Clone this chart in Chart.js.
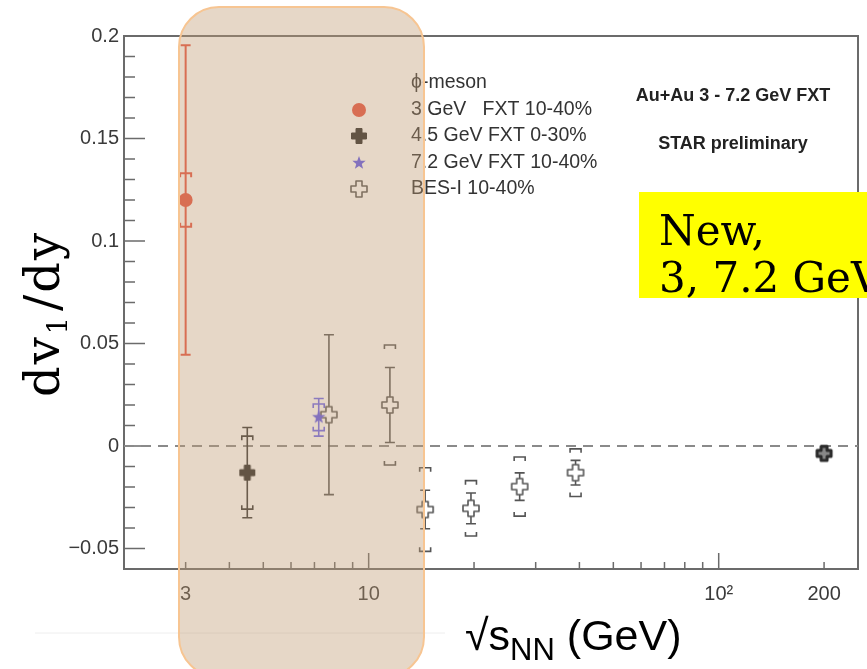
<!DOCTYPE html>
<html>
<head>
<meta charset="utf-8">
<script src="https://cdn.jsdelivr.net/npm/chart.js@4.4.1/dist/chart.umd.min.js"></script>
<style>
    html, body { margin: 0; padding: 0; background: #fff; }
    #wrap { width: 867px; height: 669px; position: relative; }
</style>
</head>
<body>
<div id="wrap"><canvas id="flowChart"></canvas></div>
<script>
// phi-meson dv1/dy vs sqrt(sNN)
const fxt3Energy = [3];
const fxt3Slope = [0.12];
const fxt3Stat = [0.0755];
const fxt3Sys = [0.013];

const fxt45Energy = [4.5];
const fxt45Slope = [-0.013];
const fxt45Stat = [0.022];
const fxt45Sys = [0.0178];

const fxt72Energy = [7.2];
const fxt72Slope = [0.014];
const fxt72Stat = [0.0092];
const fxt72Sys = [0.0065];

const besEnergy = [7.7, 11.5, 14.5, 19.6, 27, 39, 200];
const besSlope = [0.0153, 0.020, -0.031, -0.0304, -0.0198, -0.013, -0.0036];
const besStat = [0.039, 0.0183, 0.0094, 0.0075, 0.0067, 0.006, 0.0015];
const besSys = [0, 0.0293, 0.0204, 0.0135, 0.0144, 0.0116, 0];

const xTickValues = [2, 3, 4, 5, 6, 7, 8, 9, 10, 20, 30, 40, 50, 60, 70, 80, 90, 100, 200];
const xTickLabels = { 3: "3", 10: "10", 100: "10\u00b2", 200: "200" };
const yMajorTicks = [-0.05, 0, 0.05, 0.1, 0.15, 0.2];
const yTickLabels = ["\u22120.05", "0", "0.05", "0.1", "0.15", "0.2"];

const AXIS_COLOR = "#6b6b6b";
const LABEL_FONT = "'Liberation Sans', Arial, sans-serif";

function toPoints(xs, ys) {
    return xs.map((v, i) => ({ x: v, y: ys[i] }));
}

function makeMarker(size, draw) {
    const c = document.createElement("canvas");
    c.width = size;
    c.height = size;
    draw(c.getContext("2d"), size / 2);
    return c;
}

function crossPath(g, c, arm, half) {
    g.beginPath();
    g.moveTo(c - half, c - arm);
    g.lineTo(c + half, c - arm);
    g.lineTo(c + half, c - half);
    g.lineTo(c + arm, c - half);
    g.lineTo(c + arm, c + half);
    g.lineTo(c + half, c + half);
    g.lineTo(c + half, c + arm);
    g.lineTo(c - half, c + arm);
    g.lineTo(c - half, c + half);
    g.lineTo(c - arm, c + half);
    g.lineTo(c - arm, c - half);
    g.lineTo(c - half, c - half);
    g.closePath();
}

const openCross = makeMarker(22, (g, c) => {
    crossPath(g, c, 8, 3);
    g.fillStyle = "#fff";
    g.fill();
    g.lineJoin = "round";
    g.lineWidth = 1.6;
    g.strokeStyle = "#555";
    g.stroke();
});

const heavyCross = makeMarker(22, (g, c) => {
    crossPath(g, c, 7, 3);
    g.fillStyle = "#888";
    g.fill();
    g.lineJoin = "round";
    g.lineWidth = 3;
    g.strokeStyle = "#2b2b2b";
    g.stroke();
});

const filledCross = makeMarker(20, (g, c) => {
    crossPath(g, c, 7.5, 3);
    g.fillStyle = "#262626";
    g.fill();
    g.lineJoin = "round";
    g.lineWidth = 1;
    g.strokeStyle = "#262626";
    g.stroke();
});

const blueStar = makeMarker(18, (g, c) => {
    g.beginPath();
    for (let k = 0; k < 10; k++) {
        const r = k % 2 === 0 ? 7 : 2.9;
        const a = -Math.PI / 2 + k * Math.PI / 5;
        g.lineTo(c + r * Math.cos(a), c + r * Math.sin(a));
    }
    g.closePath();
    g.fillStyle = "#5a55ee";
    g.fill();
});

const errorBars = {
    id: "errorBars",
    beforeDatasetsDraw(chart) {
        const { ctx, chartArea, scales: { x, y } } = chart;

        // frame
        ctx.save();
        ctx.strokeStyle = AXIS_COLOR;
        ctx.lineWidth = 2;
        ctx.strokeRect(chartArea.left, chartArea.top, chartArea.right - chartArea.left, chartArea.bottom - chartArea.top);

        // tick marks, drawn inwards
        ctx.lineWidth = 1.5;
        ctx.beginPath();
        y.ticks.forEach(t => {
            const py = y.getPixelForValue(t.value);
            const major = yMajorTicks.some(m => Math.abs(m - t.value) < 1e-9);
            ctx.moveTo(chartArea.left, py);
            ctx.lineTo(chartArea.left + (major ? 21 : 11), py);
        });
        x.ticks.forEach(t => {
            const px = x.getPixelForValue(t.value);
            const major = t.value === 10 || t.value === 100;
            ctx.moveTo(px, chartArea.bottom);
            ctx.lineTo(px, chartArea.bottom - (major ? 16 : 7));
        });
        ctx.stroke();

        // zero line
        const y0 = y.getPixelForValue(0);
        ctx.strokeStyle = "#8a8a8a";
        ctx.lineWidth = 2;
        ctx.setLineDash([10, 7]);
        ctx.beginPath();
        ctx.moveTo(chartArea.left, y0);
        ctx.lineTo(chartArea.right, y0);
        ctx.stroke();
        ctx.setLineDash([]);

        chart.data.datasets.forEach(ds => {
            ctx.strokeStyle = ds.errColor;
            ctx.lineWidth = ds.errWidth;
            ds.data.forEach((p, i) => {
                const px = x.getPixelForValue(p.x);
                const s = ds.statErr[i];
                if (s) {
                    const t = y.getPixelForValue(p.y + s);
                    const b = y.getPixelForValue(p.y - s);
                    ctx.beginPath();
                    ctx.moveTo(px, t);
                    ctx.lineTo(px, b);
                    ctx.moveTo(px - 5, t);
                    ctx.lineTo(px + 5, t);
                    ctx.moveTo(px - 5, b);
                    ctx.lineTo(px + 5, b);
                    ctx.stroke();
                }
                const q = ds.sysErr[i];
                if (q) {
                    const t = y.getPixelForValue(p.y + q);
                    const b = y.getPixelForValue(p.y - q);
                    ctx.beginPath();
                    ctx.moveTo(px - 5.5, t + 4);
                    ctx.lineTo(px - 5.5, t);
                    ctx.lineTo(px + 5.5, t);
                    ctx.lineTo(px + 5.5, t + 4);
                    ctx.moveTo(px - 5.5, b - 4);
                    ctx.lineTo(px - 5.5, b);
                    ctx.lineTo(px + 5.5, b);
                    ctx.lineTo(px + 5.5, b - 4);
                    ctx.stroke();
                }
            });
        });
        ctx.restore();
    }
};

const decorations = {
    id: "decorations",
    afterDraw(chart) {
        const { ctx } = chart;
        const sets = chart.data.datasets;
        ctx.save();

        // legend
        ctx.fillStyle = "#333";
        ctx.font = "19.5px " + LABEL_FONT;
        ctx.textBaseline = "middle";
        ctx.textAlign = "left";
        ctx.fillText("\u03d5-meson", 411, 83);
        const rowY = [110, 136, 163, 189];
        sets.forEach((ds, i) => {
            const my = rowY[i];
            if (ds.pointStyle === "circle") {
                ctx.fillStyle = ds.backgroundColor;
                ctx.beginPath();
                ctx.arc(359, my, 7, 0, Math.PI * 2);
                ctx.fill();
            } else {
                const img = Array.isArray(ds.pointStyle) ? ds.pointStyle[0] : ds.pointStyle;
                ctx.drawImage(img, 359 - img.width / 2, my - img.height / 2);
            }
            ctx.fillStyle = "#333";
            ctx.fillText(ds.label, 411, my);
        });

        // annotations
        ctx.fillStyle = "#222";
        ctx.textAlign = "center";
        ctx.font = "bold 18px " + LABEL_FONT;
        ctx.fillText("Au+Au 3 - 7.2 GeV FXT", 733, 96);
        ctx.fillText("STAR preliminary", 733, 144);

        // yellow note
        ctx.fillStyle = "#ffff00";
        ctx.fillRect(639, 192, 240, 106);
        ctx.fillStyle = "#000";
        ctx.textAlign = "left";
        ctx.textBaseline = "alphabetic";
        ctx.font = "42px 'DejaVu Serif', serif";
        ctx.fillText("New,", 659, 245);
        ctx.fillText("3, 7.2 GeV", 659, 292);

        // y title
        ctx.save();
        ctx.translate(59, 397);
        ctx.rotate(-Math.PI / 2);
        ctx.letterSpacing = "2px";
        ctx.font = "48px 'DejaVu Serif', serif";
        let cx = 0;
        ctx.fillText("dv", cx, 0);
        cx += ctx.measureText("dv").width;
        ctx.font = "27px 'DejaVu Serif', serif";
        ctx.fillText("1", cx + 1, 8);
        cx += ctx.measureText("1").width + 5;
        ctx.font = "48px 'DejaVu Serif', serif";
        ctx.fillText("/dy", cx, 0);
        ctx.restore();

        // x title
        ctx.font = "43px " + LABEL_FONT;
        let tx = 465;
        ctx.fillText("\u221as", tx, 650);
        tx += ctx.measureText("\u221as").width;
        ctx.font = "31px " + LABEL_FONT;
        ctx.fillText("NN", tx, 660);
        tx += ctx.measureText("NN").width;
        ctx.font = "43px " + LABEL_FONT;
        ctx.fillText(" (GeV)", tx, 650);

        // faint leftover rule
        ctx.strokeStyle = "#eeeeee";
        ctx.lineWidth = 1;
        ctx.beginPath();
        ctx.moveTo(35, 633);
        ctx.lineTo(445, 633);
        ctx.stroke();

        // highlight band over the FXT energies
        ctx.beginPath();
        ctx.roundRect(179, 7, 245, 670, 40);
        ctx.fillStyle = "rgba(192, 155, 115, 0.4)";
        ctx.fill();
        ctx.strokeStyle = "#f7c592";
        ctx.lineWidth = 2;
        ctx.stroke();

        ctx.restore();
    }
};

function createChart() {
    const ctx = document.getElementById("flowChart").getContext("2d");

    new Chart(ctx, {
        type: "scatter",
        data: {
            datasets: [
                {
                    label: "3 GeV   FXT 10-40%",
                    data: toPoints(fxt3Energy, fxt3Slope),
                    statErr: fxt3Stat, sysErr: fxt3Sys,
                    errColor: "#e8503f", errWidth: 2,
                    pointStyle: "circle", pointRadius: 7,
                    backgroundColor: "#e8503f", borderWidth: 0
                },
                {
                    label: "4.5 GeV FXT 0-30%",
                    data: toPoints(fxt45Energy, fxt45Slope),
                    statErr: fxt45Stat, sysErr: fxt45Sys,
                    errColor: "#333", errWidth: 1.6,
                    pointStyle: filledCross, pointRadius: 8
                },
                {
                    label: "7.2 GeV FXT 10-40%",
                    data: toPoints(fxt72Energy, fxt72Slope),
                    statErr: fxt72Stat, sysErr: fxt72Sys,
                    errColor: "#6a66f0", errWidth: 1.6,
                    pointStyle: blueStar, pointRadius: 7
                },
                {
                    label: "BES-I 10-40%",
                    data: toPoints(besEnergy, besSlope),
                    statErr: besStat, sysErr: besSys,
                    errColor: "#555", errWidth: 1.6,
                    pointStyle: [openCross, openCross, openCross, openCross, openCross, openCross, heavyCross],
                    pointRadius: 8
                }
            ]
        },
        options: {
            responsive: true,
            maintainAspectRatio: false,
            animation: false,
            layout: { padding: { left: 0, right: 9, top: 36, bottom: 0 } },
            plugins: {
                legend: { display: false },
                tooltip: { enabled: false }
            },
            scales: {
                x: {
                    type: "logarithmic",
                    min: 2,
                    max: 250,
                    afterBuildTicks: scale => {
                        scale.ticks = xTickValues.map(v => ({ value: v }));
                    },
                    afterFit: scale => { scale.height = 100; },
                    grid: { display: false, drawTicks: false },
                    border: { display: false },
                    ticks: {
                        autoSkip: false,
                        maxRotation: 0,
                        padding: 13,
                        color: "#3a3a3a",
                        font: { family: LABEL_FONT, size: 20 },
                        callback: v => xTickLabels[v] || ""
                    }
                },
                y: {
                    min: -0.06,
                    max: 0.2,
                    afterFit: scale => { scale.width = 124; },
                    grid: { display: false, drawTicks: false },
                    border: { display: false },
                    ticks: {
                        stepSize: 0.01,
                        autoSkip: false,
                        padding: 5,
                        color: "#3a3a3a",
                        font: { family: LABEL_FONT, size: 20 },
                        callback: v => {
                            const k = yMajorTicks.findIndex(m => Math.abs(m - v) < 1e-9);
                            return k >= 0 ? yTickLabels[k] : "";
                        }
                    }
                }
            }
        },
        plugins: [errorBars, decorations]
    });
}

window.onload = createChart;
</script>
</body>
</html>
